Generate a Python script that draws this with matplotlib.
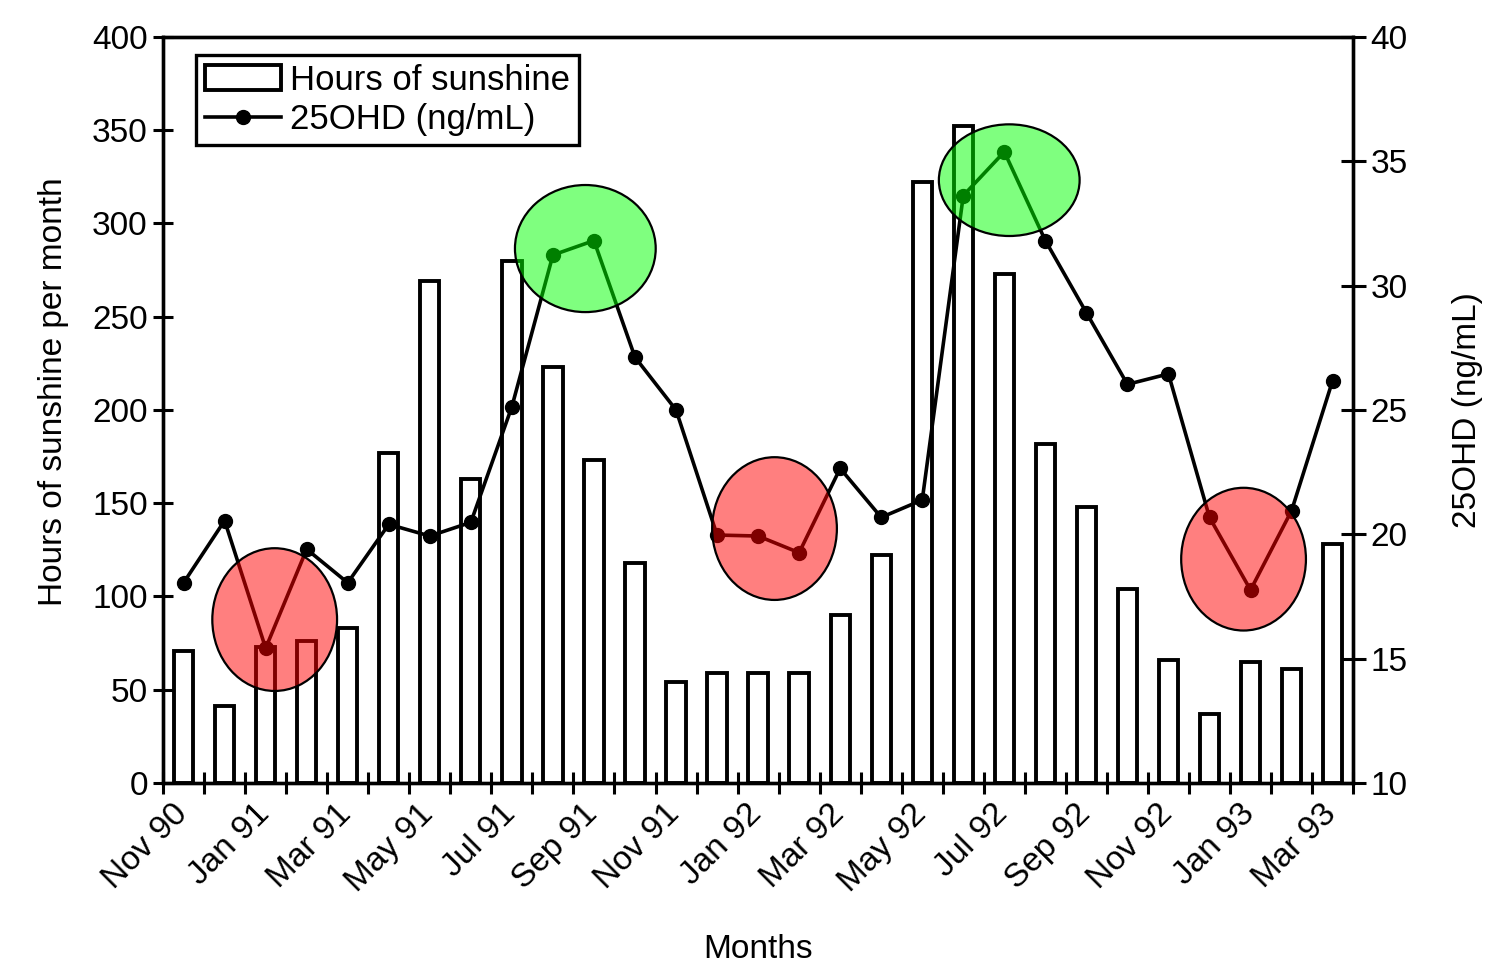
import matplotlib
matplotlib.use("Agg")
import matplotlib.pyplot as plt
import matplotlib.transforms as mtransforms
from matplotlib.patches import Ellipse

plt.rcParams['font.family'] = ['Liberation Sans', 'DejaVu Sans']

# month index 0 = Nov 90 ... 28 = Mar 93
tick_labels = ['Nov 90', 'Jan 91', 'Mar 91', 'May 91', 'Jul 91', 'Sep 91', 'Nov 91',
               'Jan 92', 'Mar 92', 'May 92', 'Jul 92', 'Sep 92', 'Nov 92', 'Jan 93', 'Mar 93']
sunshine = [71, 41, 73, 76, 83, 177, 269, 163, 280, 223, 173, 118, 54, 59, 59, 59,
            90, 122, 322, 352, 273, 182, 148, 104, 66, 37, 65, 61, 128]
ohd = [18.05, 20.55, 15.42, 19.40, 18.05, 20.40, 19.93, 20.48, 25.13, 31.23, 31.81,
       27.12, 25.0, 19.97, 19.93, 19.26, 22.65, 20.68, 21.38, 33.62, 35.38, 31.81,
       28.91, 26.03, 26.45, 20.68, 17.76, 20.95, 26.18]

# highlight circles (month index, 25OHD value)
low_spots = [(2.22, 16.57), (14.40, 20.23), (25.83, 19.0)]
high_spots = [(9.79, 31.49), (20.12, 34.24)]

n = len(sunshine)
x = list(range(n))
fs = 24

fig = plt.figure(figsize=(14.96, 9.77), dpi=100)
ax = fig.add_axes([0.109, 0.1986, 0.7955, 0.7636])

ax.bar(x, sunshine, width=0.47, color='white', edgecolor='black', linewidth=2.8,
       label='Hours of sunshine')
ax.set_xlim(-0.5, n - 0.5)
ax.set_ylim(0, 400)
ax.set_yticks(range(0, 401, 50))

ax2 = ax.twinx()
ax2.plot(x, ohd, color='black', linewidth=2.6, marker='o', markersize=10,
         label='25OHD (ng/mL)')
ax2.set_ylim(10, 40)
ax2.set_yticks(range(10, 41, 5))

ax.set_xticks(x[::2])
ax.set_xticklabels(tick_labels, rotation=45, ha='right', rotation_mode='anchor')
ax.set_xticks([i - 0.5 for i in range(n + 1)], minor=True)
ax.tick_params(axis='x', which='major', length=0, pad=11, labelsize=fs)
ax.tick_params(axis='x', which='minor', direction='inout', length=16, width=2.2)
ax.tick_params(axis='y', direction='inout', length=15, width=2.2, labelsize=fs)
ax2.tick_params(axis='y', direction='inout', length=18, width=2.2, labelsize=fs)

shift = mtransforms.ScaledTranslation(-0.12, 0, fig.dpi_scale_trans)
for lab in ax.get_xticklabels():
    lab.set_transform(lab.get_transform() + shift)

for a in (ax, ax2):
    for s in a.spines.values():
        s.set_linewidth(2.4)

ax.set_ylabel('Hours of sunshine per month', fontsize=fs)
ax.yaxis.set_label_coords(-0.079, 0.525)
ax2.set_ylabel('25OHD (ng/mL)', fontsize=fs, labelpad=32)
ax.set_xlabel('Months', fontsize=fs, labelpad=26)

for cx, cy in low_spots:
    ax2.add_patch(Ellipse((cx, cy), 3.04, 5.74, facecolor=(1, 0, 0, 0.5),
                          edgecolor='black', linewidth=1.6, zorder=5))
for i, (cx, cy) in enumerate(high_spots):
    h = 5.11 if i == 0 else 4.49
    ax2.add_patch(Ellipse((cx, cy), 3.43, h, facecolor=(0, 1, 0, 0.5),
                          edgecolor='black', linewidth=1.6, zorder=5))

h1, l1 = ax.get_legend_handles_labels()
h2, l2 = ax2.get_legend_handles_labels()
leg = ax2.legend(h1 + h2, l1 + l2, loc='upper left', bbox_to_anchor=(0.028, 0.976),
                 borderaxespad=0, fontsize=25, frameon=True, fancybox=False,
                 edgecolor='black', framealpha=1, handlelength=2.2,
                 handletextpad=0.25, borderpad=0.25, labelspacing=0.2)
leg.get_frame().set_linewidth(2.4)

fig.savefig('out.png', dpi=100)
